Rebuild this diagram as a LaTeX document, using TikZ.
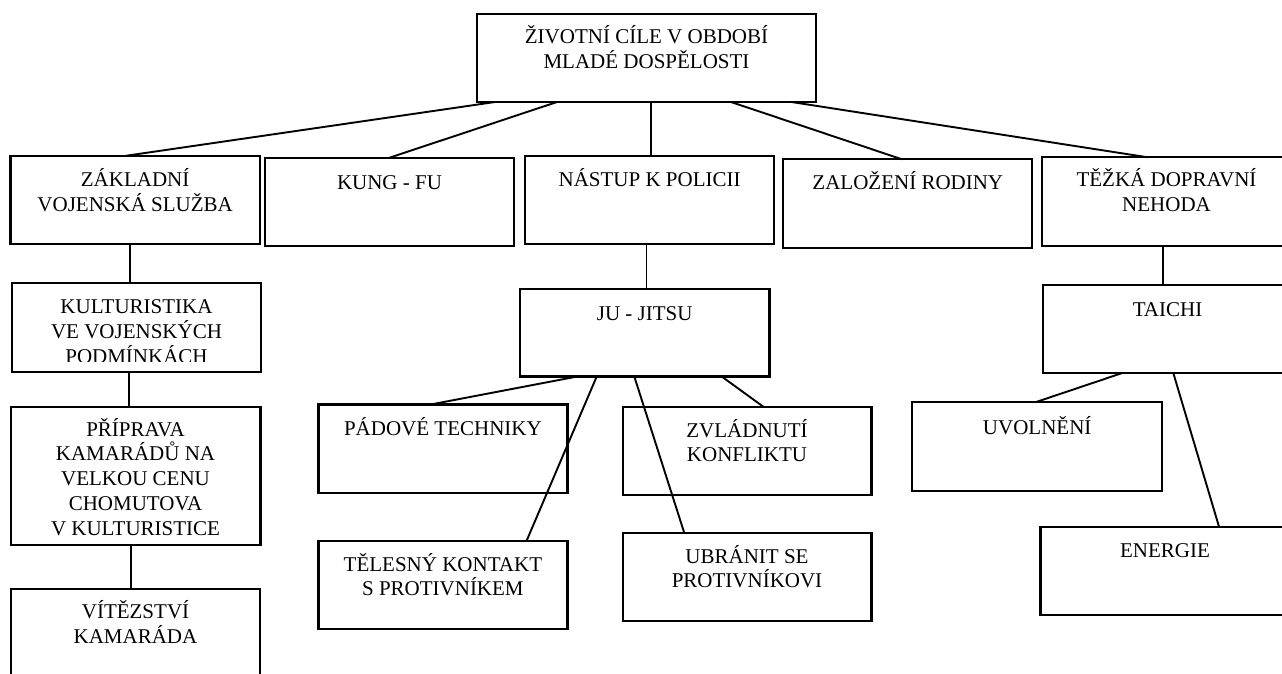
\documentclass[tikz,border=0pt]{standalone}
\usepackage{fontspec}
\setmainfont{Liberation Serif}
\usetikzlibrary{calc}
\newcommand\mystrut{\rule{0pt}{20pt}}
\tikzset{
  box/.style={draw=black, line width=2.2pt, rectangle, anchor=north west, inner sep=0pt, outer sep=0pt},
  txt/.style={anchor=north, inner sep=0pt, outer sep=0pt, align=center, font=\fontsize{21}{24.7}\selectfont},
  conn/.style={draw=black, line width=1.9pt},
}
\begin{document}
\begin{tikzpicture}[x=1pt,y=-1pt]
\useasboundingbox (0,0) rectangle (1282,673);
\fill[white] (0,0) rectangle (1282,673);
\clip (0,0) rectangle (1282,673);
% boxes
\node[box, minimum width=339pt, minimum height=88pt] (top) at (477,14) {};
\node[box, minimum width=249.3pt, minimum height=88.3pt] (zak) at (10.5,155.7) {};
\node[box, minimum width=249pt, minimum height=88pt] (kung) at (265,158) {};
\node[box, minimum width=249.3pt, minimum height=88.3pt] (nast) at (525,155.7) {};
\node[box, minimum width=249pt, minimum height=88.7pt] (zal) at (783.3,159.3) {};
\node[box, minimum width=249pt, minimum height=88.7pt] (tez) at (1042,157.3) {};
\node[box, minimum width=249pt, minimum height=89pt] (kult) at (12,282.7) {};
\node[box, minimum width=249.8pt, minimum height=138pt] (prip) at (10.6,406.7) {};
\node[box, minimum width=249pt, minimum height=120pt] (vit) at (11,589) {};
\node[box, minimum width=249.4pt, minimum height=87.8pt] (ju) at (520,288.7) {};
\node[box, minimum width=249pt, minimum height=88.8pt] (pad) at (318.4,404.5) {};
\node[box, minimum width=249pt, minimum height=87.7pt] (tel) at (318.4,541) {};
\node[box, minimum width=248.8pt, minimum height=88.3pt] (zvl) at (622.6,406.7) {};
\node[box, minimum width=248.8pt, minimum height=88.3pt] (ubr) at (622.6,532.7) {};
\node[box, minimum width=249pt, minimum height=87.7pt] (tai) at (1043,285) {};
\node[box, minimum width=249.8pt, minimum height=88.7pt] (uvo) at (912.3,402.3) {};
\node[box, minimum width=249pt, minimum height=88.3pt] (ene) at (1040.5,526.7) {};
% texts
\node[txt] (topt) at ([yshift=-9.5pt]top.north) {\mystrut ŽIVOTNÍ CÍLE V OBDOBÍ\\MLADÉ DOSPĚLOSTI};
\node[txt] (zakt) at ([yshift=-11pt]zak.north) {\mystrut ZÁKLADNÍ\\VOJENSKÁ SLUŽBA};
\node[txt] (kungt) at ([yshift=-11pt]kung.north) {\mystrut KUNG - FU};
\node[txt] (nastt) at ([yshift=-11pt]nast.north) {\mystrut NÁSTUP K POLICII};
\node[txt] (zalt) at ([yshift=-10.5pt]zal.north) {\mystrut ZALOŽENÍ RODINY};
\node[txt] (tezt) at ([yshift=-9.5pt]tez.north) {\mystrut TĚŽKÁ DOPRAVNÍ\\NEHODA};
\begin{scope}
\clip (12,282.7) rectangle (261,361.5);
\node[txt] (kultt) at ([yshift=-11pt]kult.north) {\mystrut KULTURISTIKA\\VE VOJENSKÝCH\\PODMÍNKÁCH};
\end{scope}
\node[txt] (pript) at ([yshift=-9.5pt]prip.north) {\mystrut PŘÍPRAVA\\KAMARÁDŮ NA\\VELKOU CENU\\CHOMUTOVA\\V KULTURISTICE};
\node[txt] (vitt) at ([yshift=-9.5pt]vit.north) {\mystrut VÍTĚZSTVÍ\\KAMARÁDA};
\node[txt] (jut) at ([yshift=-11.5pt]ju.north) {\mystrut JU - JITSU};
\node[txt] (padt) at ([yshift=-11pt]pad.north) {\mystrut PÁDOVÉ TECHNIKY};
\node[txt] (telt) at ([yshift=-10pt]tel.north) {\mystrut TĚLESNÝ KONTAKT\\S PROTIVNÍKEM};
\node[txt] (zvlt) at ([yshift=-10.3pt]zvl.north) {\mystrut ZVLÁDNUTÍ\\KONFLIKTU};
\node[txt] (ubrt) at ([yshift=-10.3pt]ubr.north) {\mystrut UBRÁNIT SE\\PROTIVNÍKOVI};
\node[txt] (tait) at ([yshift=-11pt]tai.north) {\mystrut TAICHI};
\node[txt] (uvot) at ([yshift=-12pt]uvo.north) {\mystrut UVOLNĚNÍ};
\node[txt] (enet) at ([yshift=-11pt]ene.north) {\mystrut ENERGIE};
% connectors
\draw[conn] ($(top.south west)+(18,0)$) -- ($(zak.north west)+(116,0)$);
\draw[conn] ($(top.south west)+(80,0)$) -- ($(kung.north west)+(123.6,0)$);
\draw[conn] ($(top.south west)+(173.6,0)$) -- ($(nast.north west)+(125.6,0)$);
\draw[conn] ($(top.south west)+(254,0)$) -- ($(zal.north west)+(118.7,0)$);
\draw[conn] ($(top.south west)+(314.5,0)$) -- ($(tez.north west)+(105.8,0)$);
\draw[conn] ($(zak.south west)+(119.7,0)$) -- ($(kult.north west)+(118.2,0)$);
\draw[conn] ($(kult.south west)+(117,0)$) -- ($(prip.north west)+(118.4,0)$);
\draw[conn] ($(prip.south west)+(120,0)$) -- ($(vit.north west)+(119.6,0)$);
\draw[conn] ($(nast.south west)+(121.5,0)$) -- ($(ju.north west)+(126.5,0)$);
\draw[conn] ($(ju.south west)+(57.3,0)$) -- ($(pad.north west)+(112.2,0)$);
\draw[conn] ($(ju.south west)+(76.7,0)$) -- ($(tel.north west)+(208.1,0)$);
\draw[conn] ($(ju.south west)+(114.3,0)$) -- ($(ubr.north west)+(61.6,0)$);
\draw[conn] ($(ju.south west)+(201.7,0)$) -- ($(zvl.north west)+(140.7,0)$);
\draw[conn] ($(tez.south west)+(121.3,0)$) -- ($(tai.north west)+(120.3,0)$);
\draw[conn] ($(tai.south west)+(80.2,0)$) -- ($(uvo.north west)+(122.9,0)$);
\draw[conn] ($(tai.south west)+(130.2,0)$) -- ($(ene.north west)+(178.5,0)$);
\end{tikzpicture}
\end{document}
